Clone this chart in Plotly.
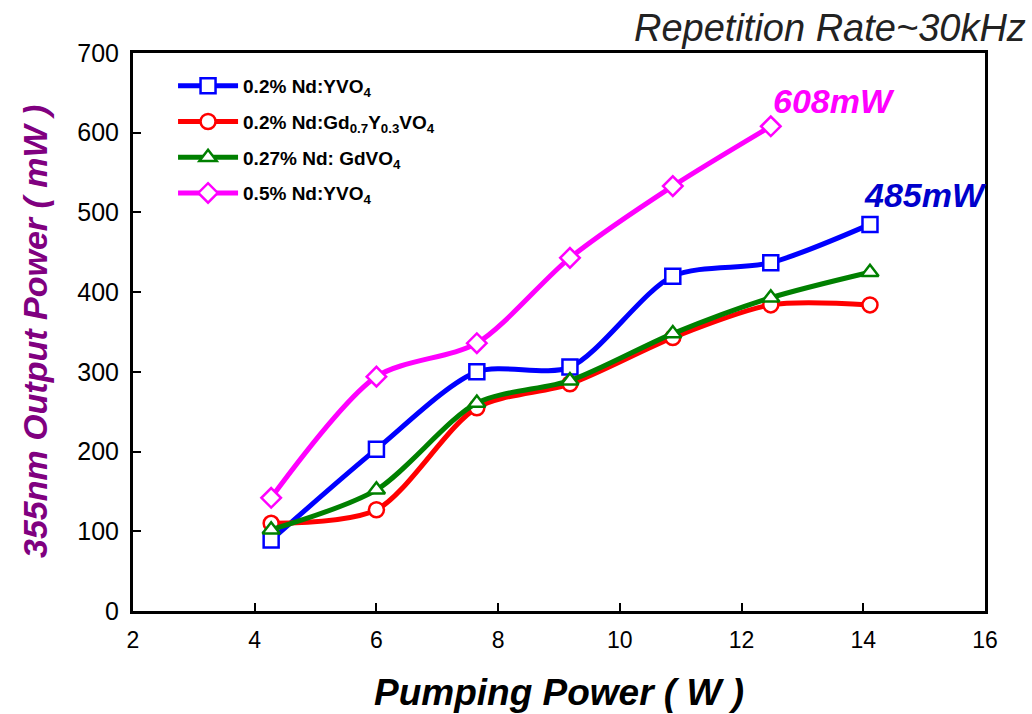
import plotly.graph_objects as go

pump_power = [4.27, 6.0, 7.65, 9.18, 10.87, 12.48, 14.11]
nd02_yvo4 = [89, 203, 300, 306, 420, 437, 485]
nd02_gdyvo4 = [110, 127, 255, 285, 343, 384, 384]
nd027_gdvo4 = [102, 152, 261, 289, 348, 393, 425]
nd05_yvo4 = [142, 294, 336, 443, 533, 608]

series = [
    ("0.2% Nd:YVO<sub>4</sub>", nd02_yvo4, "#0000FF", "square"),
    ("0.2% Nd:Gd<sub>0.7</sub>Y<sub>0.3</sub>VO<sub>4</sub>", nd02_gdyvo4, "#FF0000", "circle"),
    ("0.27% Nd: GdVO<sub>4</sub>", nd027_gdvo4, "#008000", "triangle-up"),
    ("0.5% Nd:YVO<sub>4</sub>", nd05_yvo4, "#FF00FF", "diamond"),
]

fig = go.Figure()
for i, (name, vals, color, sym) in enumerate(series):
    fig.add_trace(go.Scatter(
        x=pump_power[:len(vals)], y=vals, name=f"<b>{name}</b>", mode="lines+markers",
        legendgroup=f"g{i}",
        line=dict(color=color, width=5, shape="spline", smoothing=0.8),
        marker=dict(symbol=sym, size=15, color="white",
                    line=dict(color=color, width=2.5)),
    ))

fig.add_annotation(x=pump_power[5], y=nd05_yvo4[5], text="<b><i>608mW</i></b>", showarrow=False,
                   xanchor="left", yanchor="bottom", xshift=0, yshift=4,
                   font=dict(family="Arial, Liberation Sans", size=34, color="#FF00FF"))
fig.add_annotation(x=pump_power[6], y=nd02_yvo4[6], text="<b><i>485mW</i></b>", showarrow=False,
                   xanchor="left", yanchor="bottom", xshift=-8, yshift=8,
                   font=dict(family="Arial, Liberation Sans", size=34, color="#0000CC"))
fig.add_annotation(xref="paper", yref="paper", x=1.05, y=1.0, yshift=25,
                   text="<i>Repetition Rate~30kHz</i>", showarrow=False,
                   xanchor="right", yanchor="middle",
                   font=dict(family="Arial, Liberation Sans", size=38, color="#222222"))
fig.add_annotation(xref="paper", yref="paper", x=-0.115, y=0.5, textangle=-90,
                   text="<b><i>355nm Output Power ( mW )</i></b>", showarrow=False,
                   xanchor="center", yanchor="middle",
                   font=dict(family="Arial, Liberation Sans", size=34, color="#800080"))

fig.update_layout(
    width=1032, height=714,
    margin=dict(l=133, r=47, t=53, b=103),
    paper_bgcolor="white", plot_bgcolor="white",
    showlegend=True,
    legend=dict(x=0.047, y=0.975, xanchor="left", yanchor="top",
                font=dict(family="Arial, Liberation Sans", size=19, color="black"),
                bgcolor="rgba(0,0,0,0)", traceorder="grouped", tracegroupgap=8,
                itemwidth=60),
    font=dict(family="Arial, Liberation Sans"),
)
fig.update_xaxes(
    range=[2, 16], dtick=2, tick0=2, showgrid=False, zeroline=False,
    showline=True, linecolor="black", linewidth=3, mirror=True,
    ticks="inside", ticklen=8, tickwidth=2, tickcolor="black",
    ticklabelstandoff=6, automargin=False,
    tickfont=dict(family="Liberation Sans Narrow, Arial Narrow, Arial", size=23, color="black"),
    title=dict(text="<b><i>Pumping Power ( W )</i></b>", standoff=28,
               font=dict(family="Liberation Sans Narrow, Arial Narrow, Arial", size=37, color="black")),
)
fig.update_yaxes(
    range=[0, 700], dtick=100, showgrid=False, zeroline=False,
    showline=True, linecolor="black", linewidth=3, mirror=True,
    ticks="inside", ticklen=8, tickwidth=2, tickcolor="black",
    ticklabelstandoff=6, automargin=False,
    tickfont=dict(family="Arial, Liberation Sans", size=25, color="black"),
)

fig.write_html("out.html")
